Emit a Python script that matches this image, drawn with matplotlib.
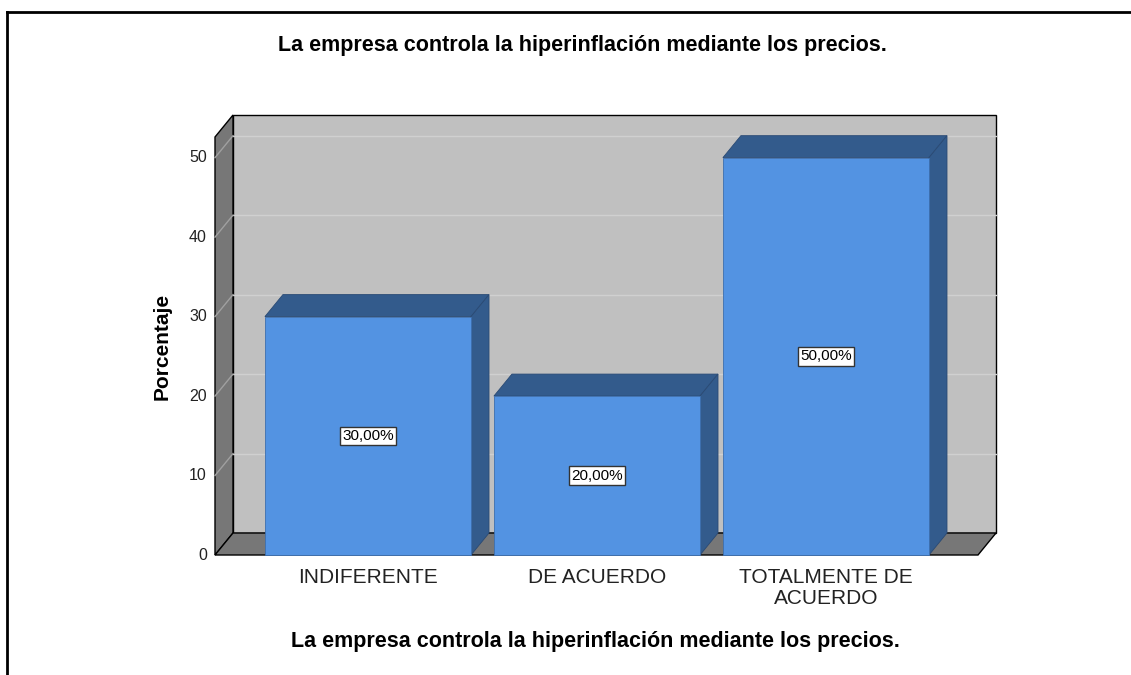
import matplotlib
matplotlib.use("Agg")
import matplotlib.pyplot as plt
from matplotlib.patches import Polygon
from matplotlib.transforms import ScaledTranslation
from matplotlib.lines import Line2D

plt.rcParams['font.family'] = ['Liberation Sans', 'DejaVu Sans']

categories = ["INDIFERENTE", "DE ACUERDO", "TOTALMENTE DE\nACUERDO"]
values = [30, 20, 50]
value_labels = ["30,00%", "20,00%", "50,00%"]
yticks = [0, 10, 20, 30, 40, 50]
title = "La empresa controla la hiperinflación mediante los precios."

W, H = 1131, 675
fig = plt.figure(figsize=(W / 100, H / 100), dpi=100)
fig.patch.set_facecolor('white')

# front plane of the 3d box, in pixels
x0, x1, y0, y1 = 215, 978, 555, 137
ax = fig.add_axes([x0 / W, 1 - y0 / H, (x1 - x0) / W, (y0 - y1) / H])
xmin, xmax = -0.668, 2.664
ymax = 52.6
ax.set_xlim(xmin, xmax)
ax.set_ylim(0, ymax)
ax.axis('off')
ax.set_zorder(10)  # texts above the box patches

# depth offset (inches)
depth = ScaledTranslation(0.18, 0.22, fig.dpi_scale_trans)
front = ax.transData
back = ax.transData + depth

wall_c = '#c0c0c0'
side_c = '#777777'
bar_c = '#5393e2'
bar_dark = '#335b8c'


def quad(pts_front, pts_back, fc, ec='none', lw=0.8, z=1):
    # polygon made from points on front plane and back plane -> convert to display
    disp = [front.transform(p) for p in pts_front] + [back.transform(p) for p in pts_back]
    poly = Polygon(disp, closed=True, transform=None, facecolor=fc, edgecolor=ec,
                   linewidth=lw, zorder=z)
    poly.set_clip_on(False)
    fig.add_artist(poly)


def seg(p, q, tp, tq, c, lw=1.0, z=2):
    a = tp.transform(p)
    b = tq.transform(q)
    ln = Line2D([a[0], b[0]], [a[1], b[1]], transform=None, color=c, lw=lw, zorder=z)
    fig.add_artist(ln)


# back wall
quad([], [(xmin, 0), (xmax, 0), (xmax, ymax), (xmin, ymax)], wall_c, 'black', 1.0, 1)
# left wall
quad([(xmin, 0), (xmin, ymax)], [(xmin, ymax), (xmin, 0)], side_c, 'black', 1.0, 1)
# floor
quad([(xmin, 0), (xmax, 0)], [(xmax, 0), (xmin, 0)], side_c, 'black', 1.0, 1)

for v in yticks[1:]:
    seg((xmin, v), (xmax, v), back, back, '#d0d0d0', 1.0, 1.5)
    seg((xmin, v), (xmin, v), front, back, '#a0a0a0', 1.0, 1.5)

# bars
w = 0.9
for i, v in enumerate(values):
    l, r = i - w / 2, i + w / 2
    # top face
    quad([(l, v), (r, v)], [(r, v), (l, v)], bar_dark, '#2a4a74', 0.6, 3)
    # side face
    quad([(r, 0), (r, v)], [(r, v), (r, 0)], bar_dark, '#2a4a74', 0.6, 3)
    # front face
    quad([(l, 0), (r, 0), (r, v), (l, v)], [], bar_c, '#3d6fae', 0.6, 4)
    ax.text(i, v / 2, value_labels[i], ha='center', va='center', fontsize=11,
            color='black',
            bbox=dict(boxstyle='square,pad=0.15', fc='white', ec='#333333', lw=1.0))

# y ticks
for v in yticks:
    ax.text(xmin - 0.035, v, str(v), ha='right', va='center', fontsize=11.5,
            color='#222222', clip_on=False)

# x labels
for i, c in enumerate(categories):
    ax.text(i, -1.6, c, ha='center', va='top', fontsize=15, color='#222222',
            linespacing=1.12, clip_on=False)

fig.text(582 / W, 1 - 45 / H, title, ha='center', va='center', fontsize=15.5,
         fontweight='bold')
fig.text(595 / W, 1 - 642 / H, title, ha='center', va='center', fontsize=15.5,
         fontweight='bold')
fig.text(162 / W, 1 - 346 / H, "Porcentaje", ha='center', va='center', fontsize=15,
         fontweight='bold', rotation=90)

# outer frame (top and left)
fig.add_artist(Line2D([7 / W, 1], [1 - 12 / H, 1 - 12 / H], color='black', lw=2,
                      transform=fig.transFigure))
fig.add_artist(Line2D([7 / W, 7 / W], [0, 1 - 12 / H], color='black', lw=2,
                      transform=fig.transFigure))

fig.savefig('out.png', dpi=100)
